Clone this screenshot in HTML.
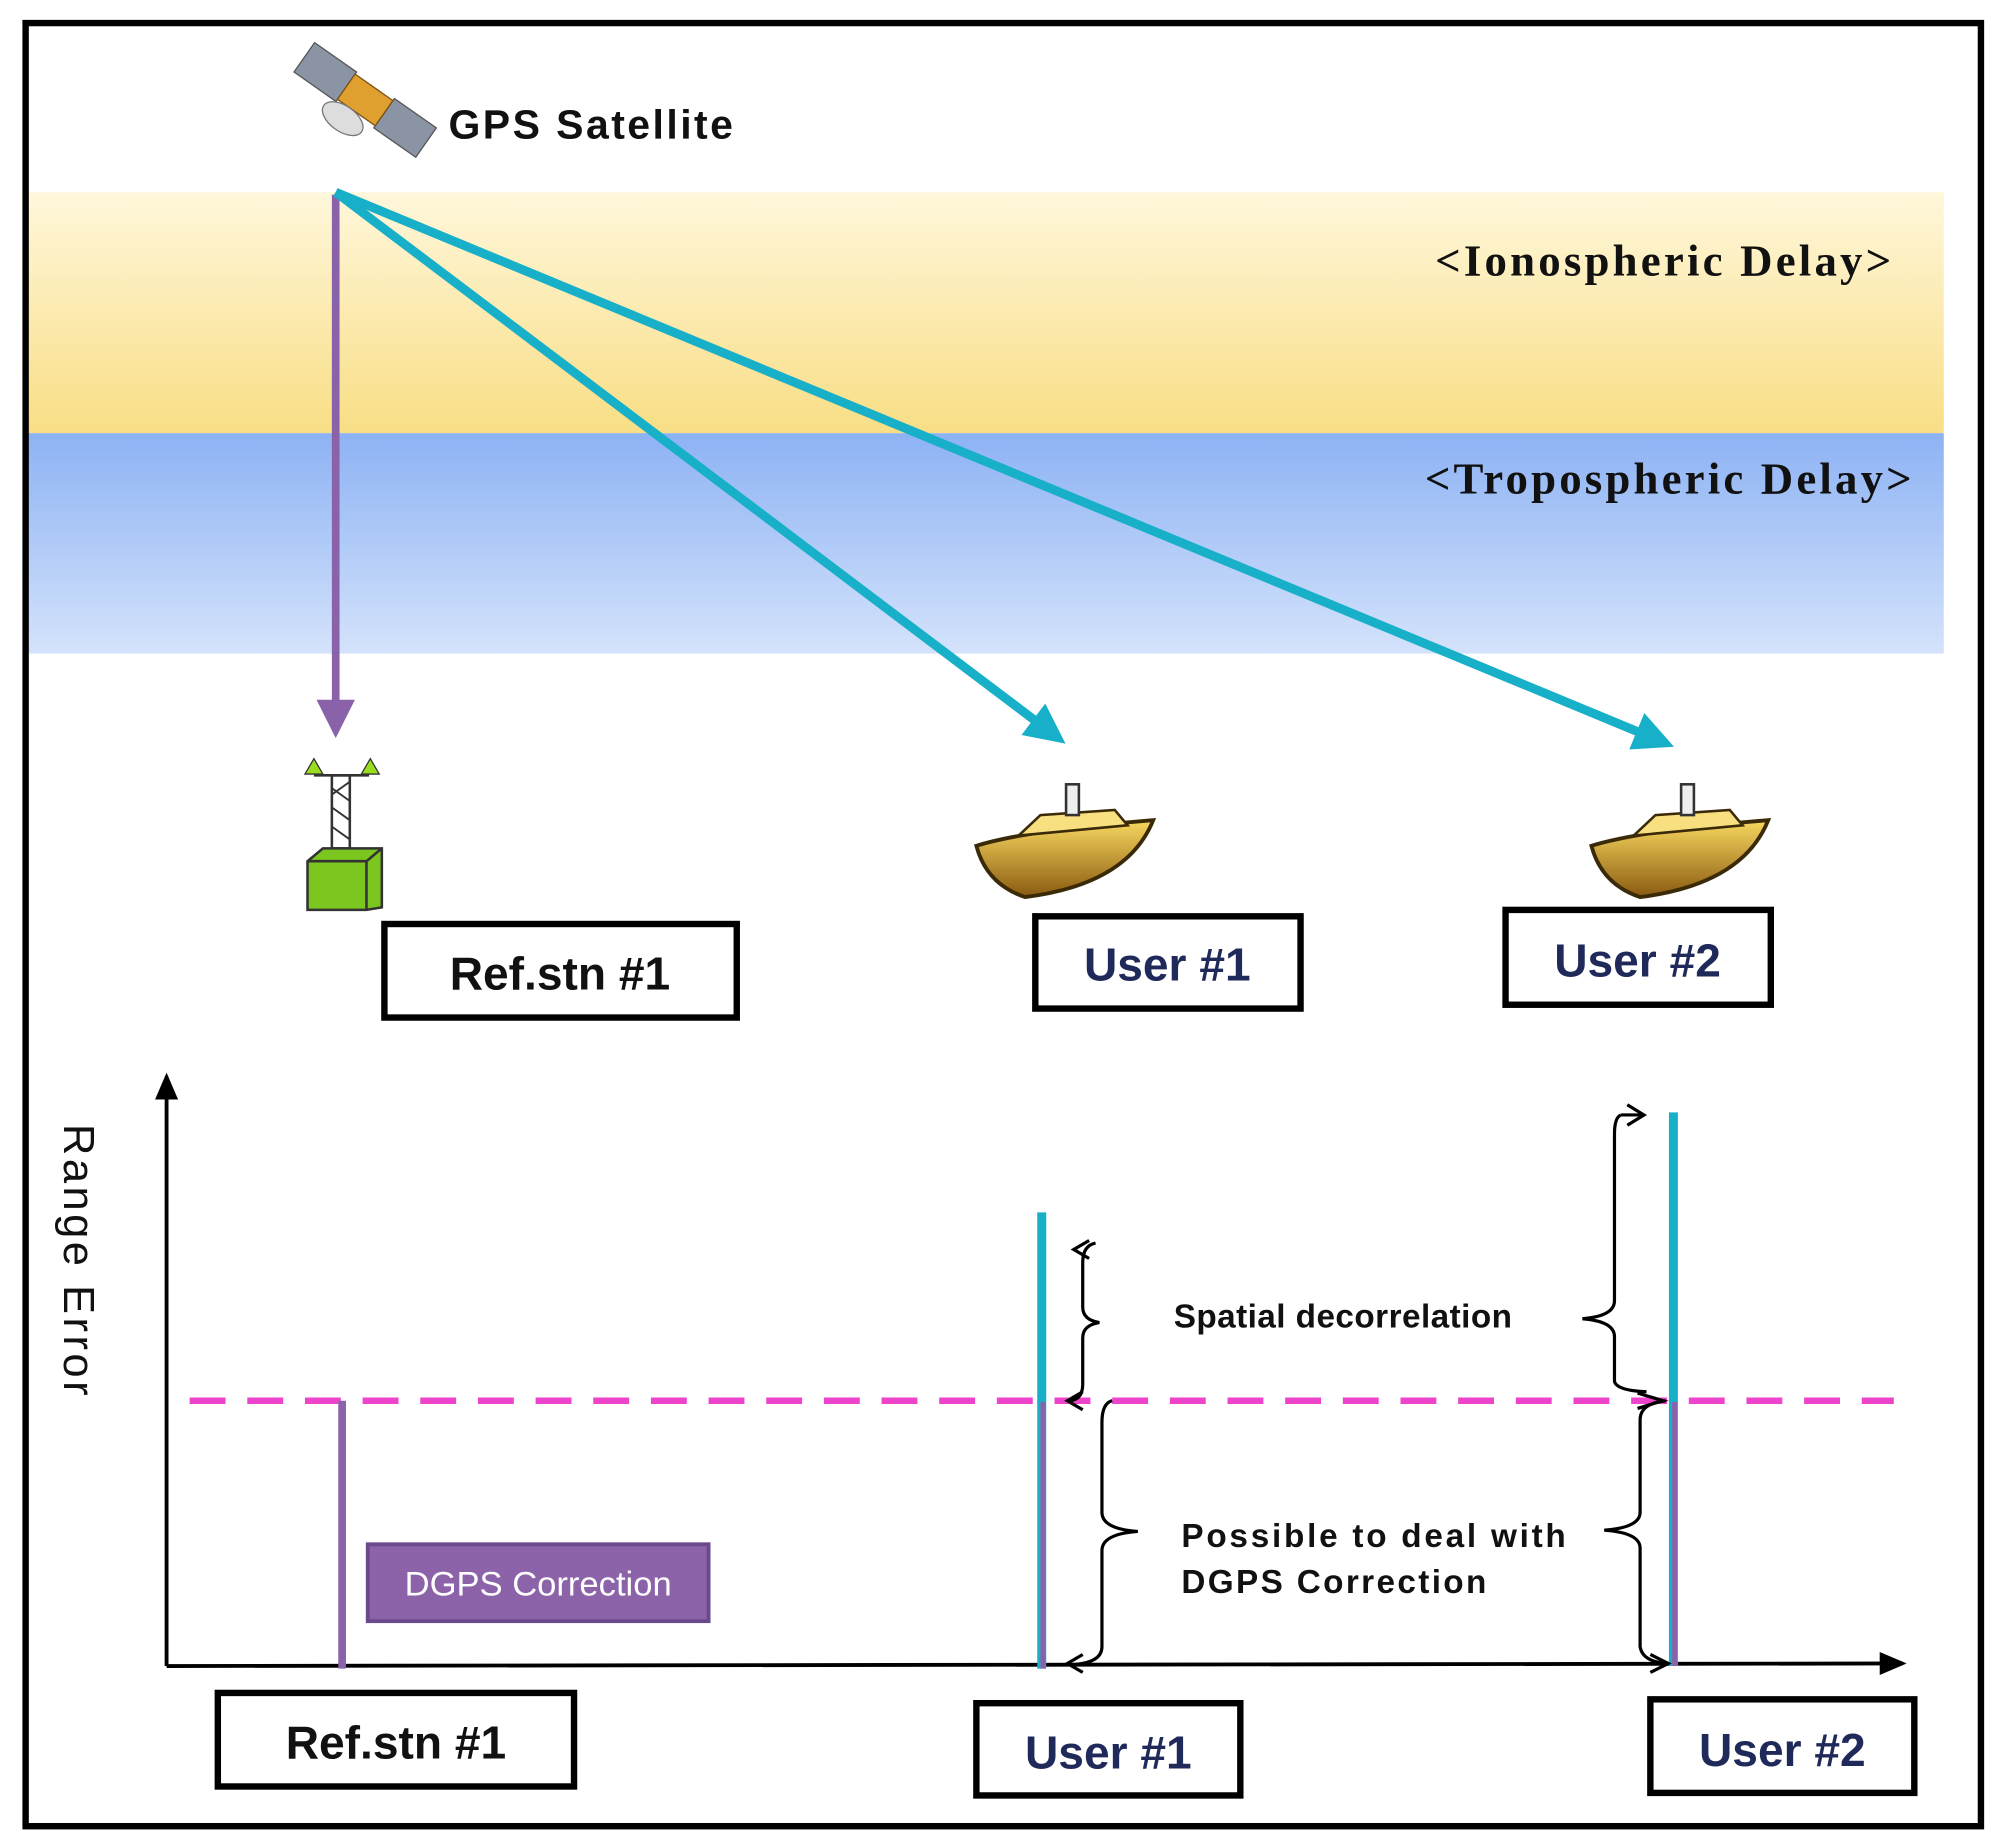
<!DOCTYPE html>
<html><head><meta charset="utf-8"><style>
html,body{margin:0;padding:0;background:#fff;}
svg{display:block;}
</style></head><body>
<svg width="2004" height="1848" viewBox="0 0 1564 1442" preserveAspectRatio="none" xmlns="http://www.w3.org/2000/svg">
<defs>
<linearGradient id="yel" x1="0" y1="0" x2="0" y2="1"><stop offset="0" stop-color="#fff7db"/><stop offset="1" stop-color="#f8de85"/></linearGradient>
<linearGradient id="blu" x1="0" y1="0" x2="0" y2="1"><stop offset="0" stop-color="#8db2f4"/><stop offset="1" stop-color="#d4e3fb"/></linearGradient>
<linearGradient id="gold" x1="0" y1="0" x2="0" y2="1"><stop offset="0" stop-color="#f8d860"/><stop offset="1" stop-color="#8a5a10"/></linearGradient>
<marker id="ac" markerWidth="5" markerHeight="5" refX="3.5" refY="2.5" orient="auto" markerUnits="strokeWidth"><path d="M0,0.3 L4.5,2.5 L0,4.7 z" fill="#17b0c8"/></marker>
<marker id="ap" markerWidth="6" markerHeight="6" refX="4" refY="3" orient="auto" markerUnits="strokeWidth"><path d="M0,0.5 L5,3 L0,5.5 z" fill="#8a62aa"/></marker>
<marker id="ak" markerWidth="8" markerHeight="8" refX="6" refY="4" orient="auto" markerUnits="strokeWidth"><path d="M0,1 L7,4 L0,7 z" fill="#000"/></marker>
</defs>
<rect x="0" y="0" width="1564" height="1442" fill="#fff"/>
<rect x="22" y="150" width="1495" height="188" fill="url(#yel)"/>
<rect x="22" y="338" width="1495" height="172" fill="url(#blu)"/>
<rect x="20" y="18" width="1526" height="1407" fill="none" stroke="#000" stroke-width="5"/>

<g transform="translate(285,78) rotate(35)">
<rect x="-58" y="-14" width="40" height="28" fill="#8a94a4" stroke="#555"/>
<rect x="18" y="-14" width="40" height="28" fill="#8a94a4" stroke="#555"/>
<rect x="-18" y="-12" width="36" height="24" fill="#e0a030" stroke="#7a5010"/>
<ellipse cx="-6" cy="22" rx="18" ry="10" fill="#ddd" stroke="#777"/>
</g>
<text x="350" y="108" textLength="222" font-family="Liberation Sans, sans-serif" font-weight="bold" font-size="32" fill="#111">GPS Satellite</text>
<text x="1120" y="215" textLength="356" font-family="Liberation Serif, serif" font-weight="bold" font-size="35" fill="#111">&lt;Ionospheric Delay&gt;</text>
<text x="1112" y="385" textLength="380" font-family="Liberation Serif, serif" font-weight="bold" font-size="35" fill="#111">&lt;Tropospheric Delay&gt;</text>

<line x1="262" y1="152" x2="262" y2="570" stroke="#8a62aa" stroke-width="6" marker-end="url(#ap)"/>
<line x1="262" y1="150" x2="826" y2="576" stroke="#17b0c8" stroke-width="7" marker-end="url(#ac)"/>
<line x1="262" y1="150" x2="1300" y2="580" stroke="#17b0c8" stroke-width="7" marker-end="url(#ac)"/>

<rect x="259" y="605" width="14" height="57" fill="#fff" stroke="#333" stroke-width="2"/>
<path d="M259,615 L273,625 M259,630 L273,640 M259,645 L273,655 M273,610 L259,620" stroke="#333" stroke-width="1.5"/>
<line x1="245" y1="605" x2="288" y2="605" stroke="#333" stroke-width="2"/>
<path d="M238,604 L245,592 L252,604 z M282,604 L289,592 L296,604 z" fill="#9adc20" stroke="#333"/>
<path d="M240,672 L252,662 L298,662 L298,708 L286,710 L240,710 z" fill="#7cc620" stroke="#333" stroke-width="2"/>
<path d="M240,672 L286,672 L298,662 M286,672 L286,710" fill="none" stroke="#333" stroke-width="2"/>

<g id="ship1">
<path d="M762,660 Q800,648 900,640 Q880,690 800,700 Q770,690 762,660 z" fill="url(#gold)" stroke="#3a2a08" stroke-width="3"/>
<path d="M795,652 L812,636 L870,632 L880,644 z" fill="#f8e080" stroke="#3a2a08" stroke-width="2"/>
<rect x="832" y="612" width="10" height="24" fill="#eee" stroke="#333" stroke-width="2"/>
</g>
<use href="#ship1" transform="translate(480,0)"/>

<g font-family="Liberation Sans, sans-serif" font-weight="bold" font-size="36" text-anchor="middle">
<rect x="300" y="721" width="275" height="73" fill="#fff" stroke="#000" stroke-width="5"/>
<text x="437" y="772" fill="#111">Ref.stn #1</text>
<rect x="808" y="715" width="207" height="72" fill="#fff" stroke="#000" stroke-width="5"/>
<text x="911" y="765" fill="#1f2a5a">User #1</text>
<rect x="1175" y="710" width="207" height="74" fill="#fff" stroke="#000" stroke-width="5"/>
<text x="1278" y="762" fill="#1f2a5a">User #2</text>
<rect x="170" y="1321" width="278" height="73" fill="#fff" stroke="#000" stroke-width="5"/>
<text x="309" y="1372" fill="#111">Ref.stn #1</text>
<rect x="762" y="1329" width="206" height="72" fill="#fff" stroke="#000" stroke-width="5"/>
<text x="865" y="1380" fill="#1f2a5a">User #1</text>
<rect x="1288" y="1326" width="206" height="73" fill="#fff" stroke="#000" stroke-width="5"/>
<text x="1391" y="1378" fill="#1f2a5a">User #2</text>
</g>

<line x1="130" y1="1300" x2="130" y2="840" stroke="#000" stroke-width="3" marker-end="url(#ak)"/>
<line x1="130" y1="1300" x2="1485" y2="1298" stroke="#000" stroke-width="3" marker-end="url(#ak)"/>
<text transform="translate(50,877) rotate(90)" textLength="212" font-family="Liberation Sans, sans-serif" font-size="34" fill="#111">Range Error</text>

<line x1="148" y1="1093" x2="1478" y2="1093" stroke="#ee44cc" stroke-width="5" stroke-dasharray="28 17"/>
<line x1="267" y1="1093" x2="267" y2="1302" stroke="#8a62aa" stroke-width="6"/>
<rect x="287" y="1205" width="266" height="60" fill="#8c62a8" stroke="#6a4a8a" stroke-width="3"/>
<text x="420" y="1245" text-anchor="middle" font-family="Liberation Sans, sans-serif" font-size="27" fill="#fff">DGPS Correction</text>

<line x1="813" y1="946" x2="813" y2="1094" stroke="#17b0c8" stroke-width="7"/>
<line x1="813" y1="1094" x2="813" y2="1302" stroke="#17b0c8" stroke-width="7"/>
<line x1="814" y1="1094" x2="814" y2="1302" stroke="#8a62aa" stroke-width="4"/>
<line x1="1306" y1="868" x2="1306" y2="1094" stroke="#17b0c8" stroke-width="7"/>
<line x1="1306" y1="1094" x2="1306" y2="1300" stroke="#17b0c8" stroke-width="7"/>
<line x1="1307" y1="1094" x2="1307" y2="1300" stroke="#8a62aa" stroke-width="4"/>

<g fill="none" stroke="#000" stroke-width="2.5">
<path d="M855,970 Q845,972 845,985 L845,1020 Q845,1030 858,1032 Q845,1034 845,1044 L845,1080 Q845,1092 835,1093"/>
<path d="M850,968 L838,975 L850,982" />
<path d="M845,1086 L833,1093 L845,1100" />
<path d="M868,1093 Q860,1095 860,1110 L860,1180 Q860,1193 888,1195 Q860,1197 860,1210 L860,1285 Q860,1298 835,1299"/>
<path d="M845,1291 L833,1298 L845,1305"/>
<path d="M1265,870 Q1260,872 1260,885 L1260,1015 Q1260,1027 1235,1029 Q1260,1031 1260,1043 L1260,1078 Q1262,1085 1285,1086"/>
<path d="M1270,862 L1283,870 L1270,878 M1265,870 L1283,870"/>
<path d="M1278,1087 L1298,1093 L1278,1099"/>
<path d="M1300,1093 Q1280,1095 1280,1108 L1280,1180 Q1280,1192 1252,1194 Q1280,1196 1280,1208 L1280,1285 Q1282,1297 1302,1298"/>
<path d="M1288,1291 L1302,1298 L1288,1305"/>
</g>
<g font-family="Liberation Sans, sans-serif" font-weight="bold" font-size="26" fill="#111">
<text x="916" y="1036" textLength="264">Spatial decorrelation</text>
<text x="922" y="1207" textLength="300">Possible to deal with</text>
<text x="922" y="1243" textLength="238">DGPS Correction</text>
</g>
</svg>
</body></html>
